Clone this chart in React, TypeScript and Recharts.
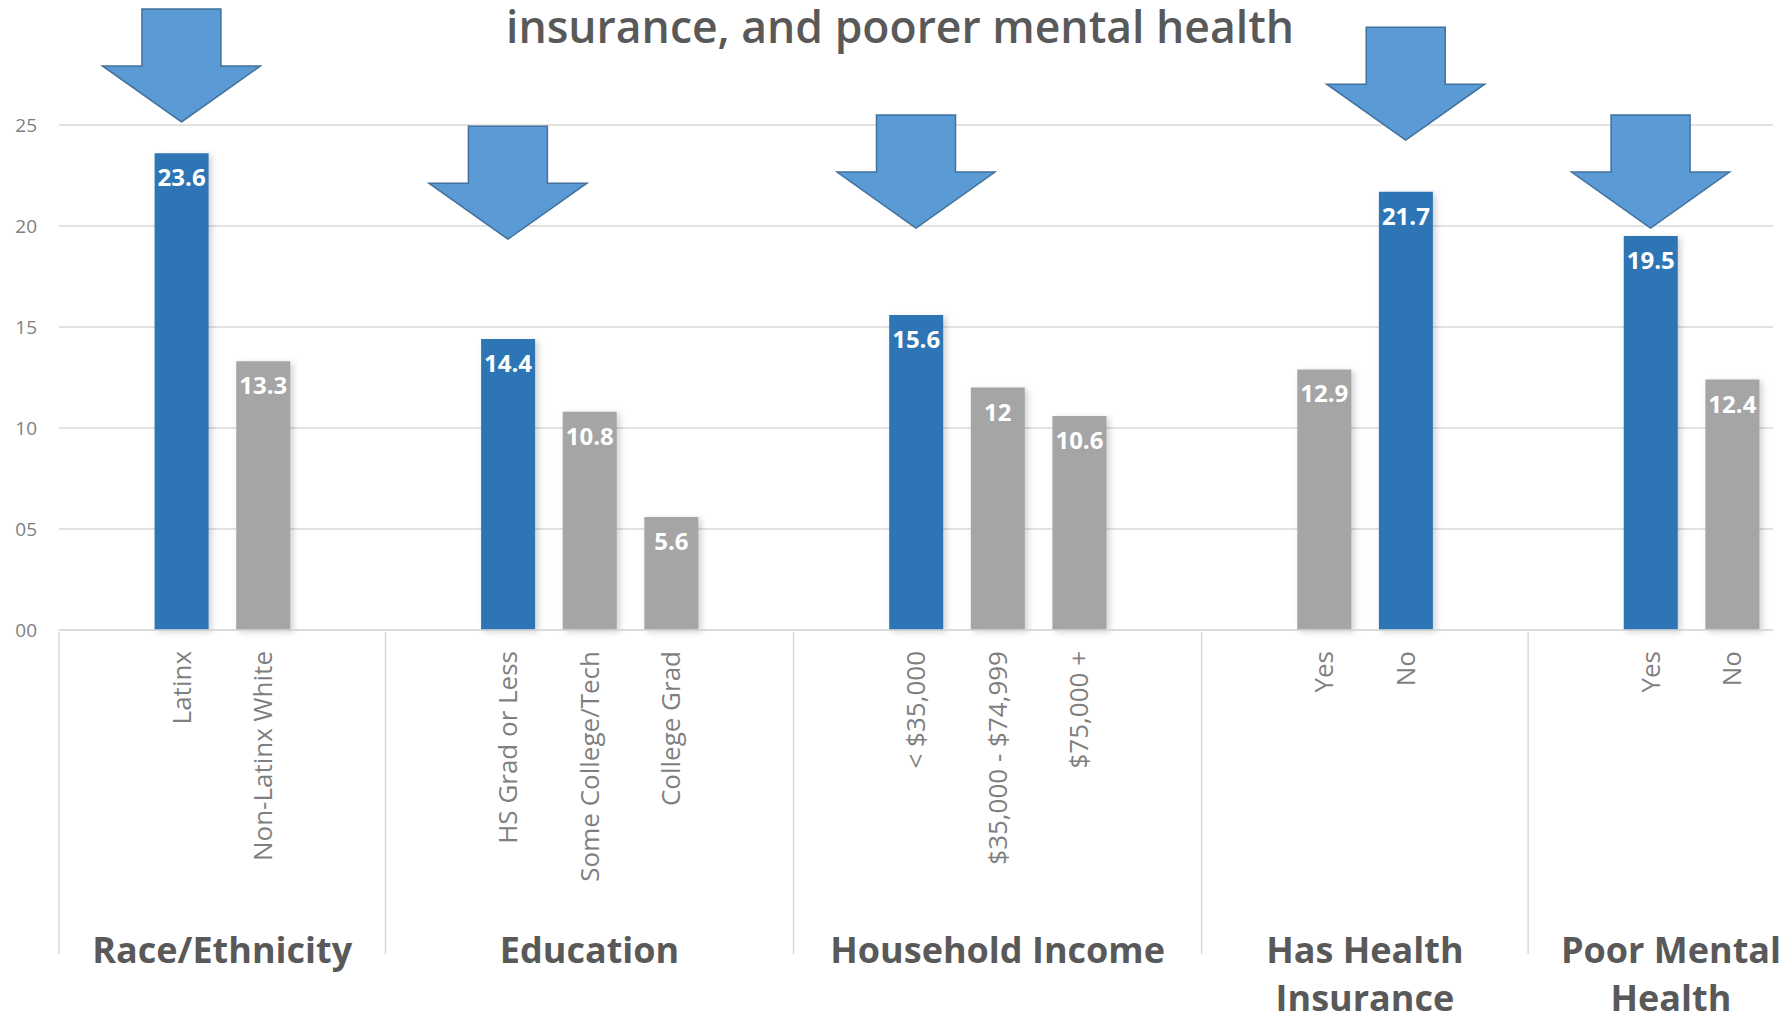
import { ComposedChart, Bar, Cell, LabelList, XAxis, YAxis, CartesianGrid, ReferenceDot } from 'recharts';

const groupLines = [
  ['Race/Ethnicity'],
  ['Education'],
  ['Household Income'],
  ['Has Health', 'Insurance'],
  ['Poor Mental', 'Health'],
];
const categories = [
  ['Latinx', 'Non-Latinx White'],
  ['HS Grad or Less', 'Some College/Tech', 'College Grad'],
  ['< $35,000', '$35,000 - $74,999', '$75,000 +'],
  ['Yes', 'No'],
  ['Yes', 'No'],
];
const values = [
  [23.6, 13.3],
  [14.4, 10.8, 5.6],
  [15.6, 12, 10.6],
  [12.9, 21.7],
  [19.5, 12.4],
];
// which bar in each group is the highlighted (blue) one
const highlightIndex = [0, 0, 0, 1, 0];
// value where each arrow's tip sits
const arrowTips = [25.15, 19.35, 19.9, 24.25, 19.9];
const yTicks = [0, 5, 10, 15, 20, 25];

const BLUE = '#2E75B6';
const GRAY = '#A5A5A5';
const GRID = '#D9D9D9';

const W = 1787;
const H = 1015;
const M = { top: 125, right: 14, bottom: 0, left: 0 };
const Y_W = 59;
const X_H = 385;

type Row = {
  slot: string;
  label: string;
  value: number | null;
  color: string;
  groupIdx: number;
  groupStart: boolean;
  span: number;
};

// spacer slots before/after each group give the gaps between groups
const rows: Row[] = [];
const arrowSlots: string[] = [];
categories.forEach((cats, g) => {
  const last = g === categories.length - 1;
  // the last group runs off the right edge, so its label sits a little right of its visible slots
  const span = cats.length + (last ? 1.5 : 2);
  rows.push({ slot: `g${g}a`, label: '', value: null, color: GRAY, groupIdx: g, groupStart: true, span });
  cats.forEach((c, i) => {
    const slot = `g${g}-${i}`;
    const hi = i === highlightIndex[g];
    if (hi) arrowSlots.push(slot);
    rows.push({ slot, label: c, value: values[g][i], color: hi ? BLUE : GRAY, groupIdx: g, groupStart: false, span: 0 });
  });
  if (!last) rows.push({ slot: `g${g}b`, label: '', value: null, color: GRAY, groupIdx: g, groupStart: false, span: 0 });
});

const BAND = (W - M.left - M.right - Y_W) / rows.length;
const bySlot = new Map(rows.map((r) => [r.slot, r]));

function CategoryTick(props: any) {
  const { x, y, payload } = props;
  const row = bySlot.get(payload.value);
  if (!row) return null;
  const left = x - BAND / 2;
  return (
    <g>
      {row.label && (
        <text
          transform={`translate(${x},${y + 19}) rotate(-90)`}
          textAnchor="end"
          dy="0.35em"
          fontSize={26}
          fill="#7F7F7F"
          fontFamily="'Open Sans', sans-serif"
        >
          {row.label}
        </text>
      )}
      {row.groupStart && (
        <>
          <line x1={left} x2={left} y1={y} y2={y + 322} stroke={GRID} strokeWidth={1.5} />
          {groupLines[row.groupIdx].map((t, i) => (
            <text
              key={i}
              x={left + (row.span * BAND) / 2}
              y={y + 331 + i * 48}
              textAnchor="middle"
              fontSize={36}
              fontWeight={700}
              fill="#595959"
              fontFamily="'Open Sans', sans-serif"
            >
              {t}
            </text>
          ))}
        </>
      )}
    </g>
  );
}

function Arrow(props: any) {
  const { cx, cy } = props;
  if (cx == null || cy == null) return null;
  const hw = 79;
  const sw = 39.5;
  const hh = 56;
  const sh = 57;
  const pts = [
    [cx, cy],
    [cx - hw, cy - hh],
    [cx - sw, cy - hh],
    [cx - sw, cy - hh - sh],
    [cx + sw, cy - hh - sh],
    [cx + sw, cy - hh],
    [cx + hw, cy - hh],
  ]
    .map((p) => p.join(','))
    .join(' ');
  return <polygon points={pts} fill="#5B9BD5" stroke="#41719C" strokeWidth={1.5} />;
}

export default function App() {
  return (
    <div style={{ position: 'absolute', left: 0, top: 0, width: W, height: H, background: '#fff', fontFamily: "'Open Sans', sans-serif" }}>
      <div
        style={{
          position: 'absolute',
          left: 0,
          width: 1800,
          top: -4,
          lineHeight: '60px',
          textAlign: 'center',
          fontSize: 44.5,
          fontWeight: 600,
          color: '#595959',
        }}
      >
        insurance, and poorer mental health
      </div>
      <ComposedChart width={W} height={H} data={rows} margin={M}>
        <CartesianGrid vertical={false} stroke={GRID} strokeWidth={1.5} />
        <XAxis
          dataKey="slot"
          interval={0}
          height={X_H}
          tickLine={false}
          tickSize={0}
          axisLine={{ stroke: GRID, strokeWidth: 1.5 }}
          tick={(p: any) => <CategoryTick {...p} />}
        />
        <YAxis
          width={Y_W}
          domain={[0, 25]}
          ticks={yTicks}
          axisLine={false}
          tickLine={false}
          tickSize={0}
          tickMargin={22}
          tickFormatter={(v: number) => String(v).padStart(2, '0')}
          tick={{ fontSize: 19, fill: '#7F7F7F' }}
        />
        <Bar dataKey="value" barSize={54} isAnimationActive={false}>
          {rows.map((r) => (
            <Cell key={r.slot} fill={r.color} style={{ filter: 'drop-shadow(3px 2px 3px rgba(0,0,0,0.18))' }} />
          ))}
          <LabelList
            dataKey="value"
            position="insideTop"
            offset={16}
            fill="#fff"
            fontSize={24}
            fontWeight={700}
          />
        </Bar>
        {arrowSlots.map((s, i) => (
          <ReferenceDot
            key={s}
            x={s}
            y={arrowTips[i]}
            r={0}
            ifOverflow="visible"
            shape={(p: any) => <Arrow {...p} />}
          />
        ))}
      </ComposedChart>
    </div>
  );
}
